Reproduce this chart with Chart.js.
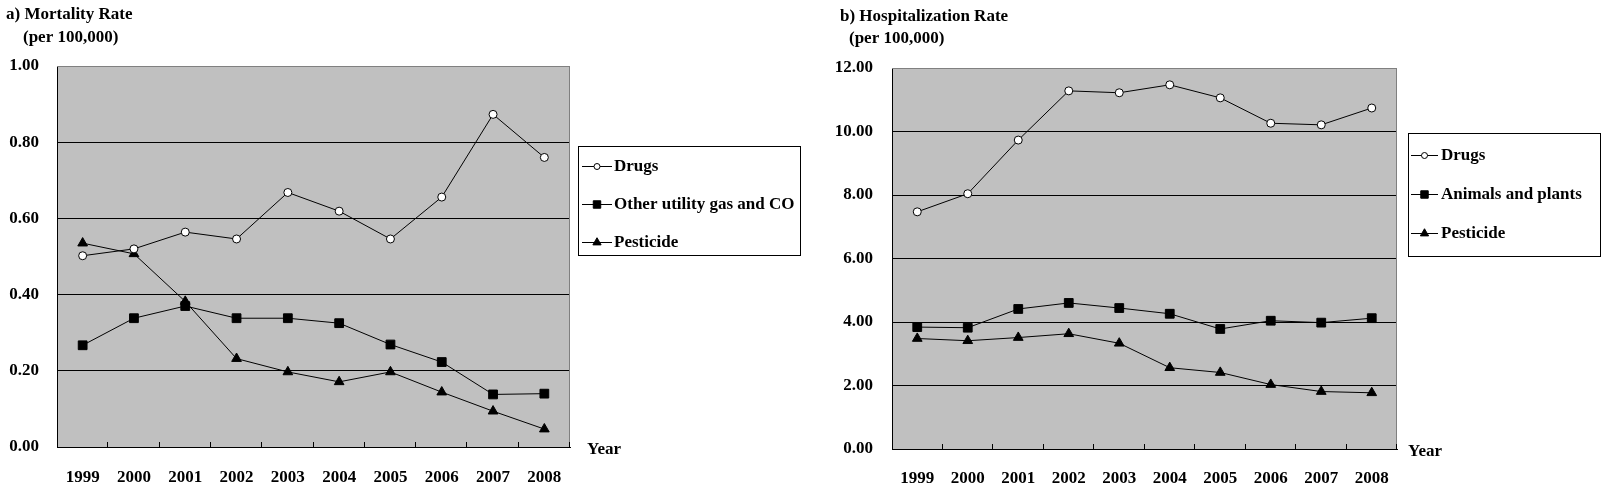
<!DOCTYPE html>
<html>
<head>
<meta charset="utf-8">
<script src="https://cdn.jsdelivr.net/npm/chart.js@4.4.0/dist/chart.umd.min.js"></script>
<style>
  body { margin: 0; background: #fff; width: 1610px; height: 492px; overflow: hidden; position: relative; }
  .box { position: absolute; top: 0; width: 805px; height: 492px; }
</style>
</head>
<body>
<div class="box" style="left:0"><canvas id="chartA"></canvas></div>
<div class="box" style="left:805px"><canvas id="chartB"></canvas></div>
<script>
// data
const years = ['1999', '2000', '2001', '2002', '2003', '2004', '2005', '2006', '2007', '2008'];

const mortDrugs     = [0.502, 0.520, 0.564, 0.546, 0.668, 0.619, 0.546, 0.656, 0.873, 0.760];
const mortGas       = [0.267, 0.338, 0.370, 0.338, 0.338, 0.325, 0.269, 0.223, 0.138, 0.140];
const mortPesticide = [0.535, 0.507, 0.382, 0.232, 0.197, 0.171, 0.197, 0.144, 0.094, 0.047];

const hospDrugs     = [7.47, 8.04, 9.73, 11.28, 11.22, 11.47, 11.06, 10.26, 10.21, 10.74];
const hospAnimals   = [3.84, 3.82, 4.41, 4.60, 4.44, 4.26, 3.78, 4.04, 3.98, 4.12];
const hospPesticide = [3.48, 3.41, 3.51, 3.63, 3.33, 2.56, 2.41, 2.03, 1.81, 1.77];

const FONT = { family: '"Liberation Serif", serif', size: 17, weight: 'bold' };
const FONT_CSS = 'bold 17px "Liberation Serif", serif';

function series(label, data, style) {
    const base = {
        label: label,
        data: data,
        borderColor: '#000',
        borderWidth: 1,
        pointBorderColor: '#000',
        pointBorderWidth: 1,
        tension: 0,
        fill: false
    };
    if (style === 'circle') return Object.assign(base, { pointStyle: 'circle', pointRadius: 4, pointBackgroundColor: '#fff' });
    if (style === 'rect') return Object.assign(base, { pointStyle: 'rect', pointRadius: 6.2, pointBackgroundColor: '#000' });
    return Object.assign(base, { pointStyle: 'triangle', pointRadius: 5.6, pointBackgroundColor: '#000' });
}

// grey plot area, inner ticks, titles, boxed legend
const decor = {
    id: 'decor',
    beforeDraw(chart) {
        const a = chart.chartArea, ctx = chart.ctx;
        ctx.save();
        ctx.fillStyle = '#c0c0c0';
        ctx.fillRect(a.left, a.top, a.right - a.left, a.bottom - a.top);
        ctx.restore();
    },
    afterDraw(chart, args, opts) {
        const a = chart.chartArea, ctx = chart.ctx, xs = chart.scales.x;
        ctx.save();
        // plot frame top/right
        ctx.strokeStyle = '#808080';
        ctx.lineWidth = 1;
        ctx.beginPath();
        ctx.moveTo(a.left, a.top + 0.5);
        ctx.lineTo(a.right - 0.5, a.top + 0.5);
        ctx.lineTo(a.right - 0.5, a.bottom);
        ctx.stroke();
        // tick marks between categories, pointing up
        ctx.strokeStyle = '#000';
        const half = (xs.getPixelForValue(1) - xs.getPixelForValue(0)) / 2;
        ctx.beginPath();
        for (let i = 0; i < years.length; i++) {
            const x = Math.round(xs.getPixelForValue(i) + half) - 0.5;
            ctx.moveTo(x, a.bottom);
            ctx.lineTo(x, a.bottom - 5);
        }
        ctx.stroke();

        ctx.fillStyle = '#000';
        ctx.font = FONT_CSS;
        ctx.textBaseline = 'middle';
        ctx.textAlign = 'left';
        ctx.fillText(opts.title, opts.titleX, opts.titleY);
        ctx.fillText('(per 100,000)', opts.subX, opts.subY);
        ctx.fillText('Year', opts.yearX, opts.yearY);

        // legend box
        const L = opts.legend;
        ctx.fillStyle = '#fff';
        ctx.fillRect(L.left, L.top, L.right - L.left, L.bottom - L.top);
        ctx.strokeStyle = '#000';
        ctx.strokeRect(L.left + 0.5, L.top + 0.5, L.right - L.left - 1, L.bottom - L.top - 1);
        chart.data.datasets.forEach((ds, i) => {
            const y = L.rows[i];
            ctx.strokeStyle = '#000';
            ctx.beginPath();
            ctx.moveTo(L.lineStart, y + 0.5);
            ctx.lineTo(L.lineEnd, y + 0.5);
            ctx.stroke();
            ctx.fillStyle = ds.pointBackgroundColor;
            ctx.strokeStyle = '#000';
            ctx.lineWidth = 1;
            Chart.helpers.drawPoint(ctx, {
                pointStyle: ds.pointStyle,
                radius: ds.pointStyle === 'circle' ? 3 : ds.pointRadius * 0.85,
                rotation: 0,
                borderWidth: 1
            }, (L.lineStart + L.lineEnd) / 2, y + 0.5);
            ctx.fillStyle = '#000';
            ctx.fillText(ds.label, L.textX, y + 1);
        });
        ctx.restore();
    }
};

function makeChart(id, datasets, yMax, yStep, areaLeft, areaRight, areaTop, areaBottom, tickPad, xPad, decorOpts) {
    return new Chart(document.getElementById(id), {
        type: 'line',
        data: { labels: years, datasets: datasets },
        options: {
            responsive: true,
            maintainAspectRatio: false,
            animation: false,
            layout: { padding: { left: 0, top: areaTop, right: 805 - areaRight, bottom: 0 } },
            plugins: {
                legend: { display: false },
                tooltip: { enabled: false },
                decor: decorOpts
            },
            scales: {
                x: {
                    offset: true,
                    grid: { display: false },
                    border: { color: '#000', width: 1 },
                    ticks: { color: '#000', font: FONT, padding: xPad, maxRotation: 0, autoSkip: false },
                    afterFit: s => { s.height = 492 - areaBottom; }
                },
                y: {
                    min: 0,
                    max: yMax,
                    grid: {
                        drawTicks: false,
                        lineWidth: 1,
                        color: c => (c.tick.value === yMax ? '#808080' : '#000')
                    },
                    border: { color: '#000', width: 1 },
                    ticks: {
                        stepSize: yStep,
                        color: '#000',
                        font: FONT,
                        padding: tickPad,
                        callback: v => Number(v).toFixed(2)
                    },
                    afterFit: s => { s.width = areaLeft; }
                }
            }
        },
        plugins: [decor]
    });
}

makeChart('chartA', [
    series('Drugs', mortDrugs, 'circle'),
    series('Other utility gas and CO', mortGas, 'rect'),
    series('Pesticide', mortPesticide, 'triangle')
], 1, 0.2, 57, 570, 66, 447, 18, 12, {
    title: 'a) Mortality Rate', titleX: 6, titleY: 15,
    subX: 23, subY: 38,
    yearX: 587, yearY: 450,
    legend: { left: 578, right: 801, top: 146, bottom: 256, rows: [166, 204, 242], lineStart: 582, lineEnd: 612, textX: 614 }
});

makeChart('chartB', [
    series('Drugs', hospDrugs, 'circle'),
    series('Animals and plants', hospAnimals, 'rect'),
    series('Pesticide', hospPesticide, 'triangle')
], 12, 2, 87, 592, 68, 449, 19, 11, {
    title: 'b) Hospitalization Rate', titleX: 35, titleY: 17,
    subX: 44, subY: 39,
    yearX: 603, yearY: 452,
    legend: { left: 603, right: 796, top: 133, bottom: 257, rows: [155, 194, 233], lineStart: 606, lineEnd: 633, textX: 636 }
});
</script>
</body>
</html>
